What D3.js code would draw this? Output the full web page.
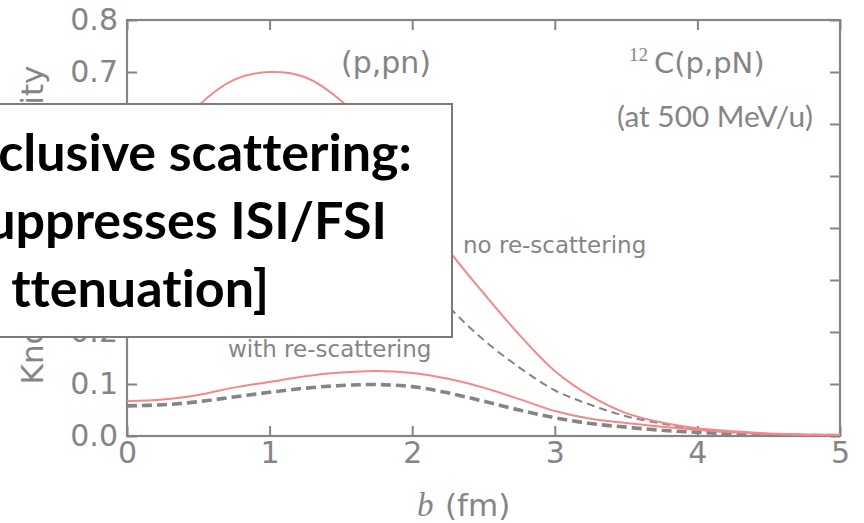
<!DOCTYPE html>
<html>
<head>
<meta charset="utf-8">
<script src="https://cdn.jsdelivr.net/npm/d3@7"></script>
<style>
  html, body { margin: 0; padding: 0; background: #fff; }
  svg { display: block; }
  text { font-variant-ligatures: none; font-feature-settings: "liga" 0, "clig" 0; }
</style>
</head>
<body>
<script>
// Impact parameter grid (fm)
const impactParam = [0, 0.25, 0.5, 0.75, 1.0, 1.25, 1.5, 1.75, 2.0, 2.25, 2.5,
                     2.75, 3.0, 3.25, 3.5, 3.75, 4.0, 4.25, 4.5, 4.75, 5.0];

// Knockout probability, (p,pn) channel
const pnNoRescatter   = [0.50, 0.55, 0.635, 0.685, 0.700, 0.690, 0.645, 0.570, 0.470, 0.360, 0.275,
                         0.195, 0.125, 0.077, 0.044, 0.026, 0.015, 0.009, 0.005, 0.003, 0.002];
const pnWithRescatter = [0.067, 0.070, 0.079, 0.093, 0.104, 0.115, 0.122, 0.125, 0.121, 0.110, 0.093,
                         0.071, 0.048, 0.033, 0.025, 0.018, 0.012, 0.007, 0.004, 0.002, 0.001];

// Knockout probability, (p,pp) channel
const ppNoRescatter   = [0.34, 0.37, 0.43, 0.47, 0.485, 0.475, 0.445, 0.395, 0.325, 0.250, 0.185,
                         0.132, 0.088, 0.060, 0.038, 0.024, 0.013, 0.007, 0.004, 0.002, 0.001];
const ppWithRescatter = [0.058, 0.060, 0.066, 0.075, 0.084, 0.092, 0.097, 0.099, 0.095, 0.083, 0.067,
                         0.050, 0.035, 0.024, 0.017, 0.011, 0.007, 0.004, 0.002, 0.001, 0.001];

const xTicks = [0, 1, 2, 3, 4, 5];
const yTicks = [0, 0.1, 0.2, 0.3, 0.4, 0.5, 0.6, 0.7, 0.8];

const boxLines = ["clusive scattering:", "uppresses ISI/FSI", "ttenuation]"];

const W = 864, H = 523;
const plot = { left: 127, right: 840, top: 20, bottom: 436 };
const GRAY = "#858585";
const PINK = "#f3878a";
const MPL_FONT = "'DejaVu Sans', sans-serif";

const svg = d3.select("body").append("svg")
  .attr("width", W).attr("height", H)
  .attr("viewBox", `0 0 ${W} ${H}`);

const x = d3.scaleLinear().domain([0, 5]).range([plot.left, plot.right]);
const y = d3.scaleLinear().domain([0, 0.8]).range([plot.bottom, plot.top]);

// y-axis title (partly hidden under the callout box)
svg.append("text")
  .attr("transform", `translate(43, ${(plot.top + plot.bottom) / 2 - 3}) rotate(-90)`)
  .attr("text-anchor", "middle")
  .style("font-family", MPL_FONT)
  .style("font-size", "31px")
  .attr("fill", GRAY)
  .text("Knockout probability");

// axes with inward ticks
function styleAxis(g) {
  g.select(".domain").remove();
  g.selectAll(".tick line").attr("stroke", GRAY).attr("stroke-width", 2);
  g.selectAll(".tick text")
    .attr("fill", GRAY)
    .style("font-family", MPL_FONT)
    .style("font-size", "30px");
}

svg.append("g")
  .attr("transform", `translate(${plot.left},0)`)
  .call(d3.axisLeft(y).tickValues(yTicks).tickSizeInner(-10).tickSizeOuter(0)
        .tickPadding(9).tickFormat(d3.format(".1f")))
  .call(styleAxis);

svg.append("g")
  .attr("transform", `translate(0,${plot.bottom})`)
  .call(d3.axisBottom(x).tickValues(xTicks).tickSizeInner(-10).tickSizeOuter(0)
        .tickPadding(6).tickFormat(d3.format("d")))
  .call(styleAxis);

svg.append("g")
  .attr("transform", `translate(${plot.right},0)`)
  .call(d3.axisRight(y).tickValues(yTicks).tickSizeInner(-10).tickSizeOuter(0).tickFormat(""))
  .call(styleAxis);

svg.append("g")
  .attr("transform", `translate(0,${plot.top})`)
  .call(d3.axisTop(x).tickValues(xTicks).tickSizeInner(-10).tickSizeOuter(0).tickFormat(""))
  .call(styleAxis);

// frame
svg.append("rect")
  .attr("x", plot.left).attr("y", plot.top)
  .attr("width", plot.right - plot.left).attr("height", plot.bottom - plot.top)
  .attr("fill", "none").attr("stroke", GRAY).attr("stroke-width", 2.2);

// curves
svg.append("clipPath").attr("id", "plot-clip")
  .append("rect")
  .attr("x", plot.left).attr("y", plot.top)
  .attr("width", plot.right - plot.left).attr("height", plot.bottom - plot.top);

const line = d3.line()
  .x((d, i) => x(impactParam[i]))
  .y(d => y(d))
  .curve(d3.curveCatmullRom.alpha(0.5));

const curves = svg.append("g").attr("clip-path", "url(#plot-clip)");

const series = [
  { values: ppNoRescatter,   color: GRAY, width: 2,   dash: "8,5" },
  { values: ppWithRescatter, color: GRAY, width: 3.6, dash: "10,5" },
  { values: pnNoRescatter,   color: PINK, width: 2,   dash: null },
  { values: pnWithRescatter, color: PINK, width: 2,   dash: null }
];

series.forEach(s => {
  curves.append("path")
    .datum(s.values)
    .attr("d", line)
    .attr("fill", "none")
    .attr("stroke", s.color)
    .attr("stroke-width", s.width)
    .attr("stroke-dasharray", s.dash);
});

// annotations
function label(txt, px, py, size, opts = {}) {
  return svg.append("text")
    .attr("x", px).attr("y", py)
    .attr("fill", GRAY)
    .style("font-family", opts.family || MPL_FONT)
    .style("font-size", size + "px")
    .style("font-style", opts.italic ? "italic" : "normal")
    .text(txt);
}

label("(p,pn)", 341, 73, 30);
label("12", 629, 61, 19, { family: "'Liberation Serif', serif" });
label("C(p,pN)", 654, 73, 29);
label("no re-scattering", 463, 253, 23);
label("with re-scattering", 228, 357, 23);

// "(at 500 MeV/u)" fitted to its span
const energyLabel = label("(at 500 MeV/u)", 617, 127, 28, { family: "Lato, sans-serif" });
{
  const w = energyLabel.node().getComputedTextLength();
  energyLabel.style("font-size", (28 * 196 / w) + "px");
}

// x-axis title
label("b", 417, 516, 33, { family: "'Liberation Serif', serif", italic: true });
label("(fm)", 445, 516, 31);

// callout box on top of the chart
svg.append("rect")
  .attr("x", -10).attr("y", 104)
  .attr("width", 462).attr("height", 233)
  .attr("fill", "#fff")
  .attr("stroke", "#7a7a7a")
  .attr("stroke-width", 2);

const boxText = svg.append("g")
  .style("font-family", "Lato, 'Open Sans', sans-serif")
  .style("font-weight", "bold")
  .attr("fill", "#000")
  .attr("text-anchor", "end");

const lineEnds = [412, 387, 269];
const lineBaselines = [171, 239, 307];
const lines = boxText.selectAll("text").data(boxLines).join("text")
  .attr("x", (d, i) => lineEnds[i])
  .attr("y", (d, i) => lineBaselines[i])
  .style("font-size", "56px")
  .text(d => d);
{
  const w0 = lines.nodes()[0].getComputedTextLength();
  const size = 56 * 414 / w0;
  lines.style("font-size", size + "px");
}
</script>
</body>
</html>
